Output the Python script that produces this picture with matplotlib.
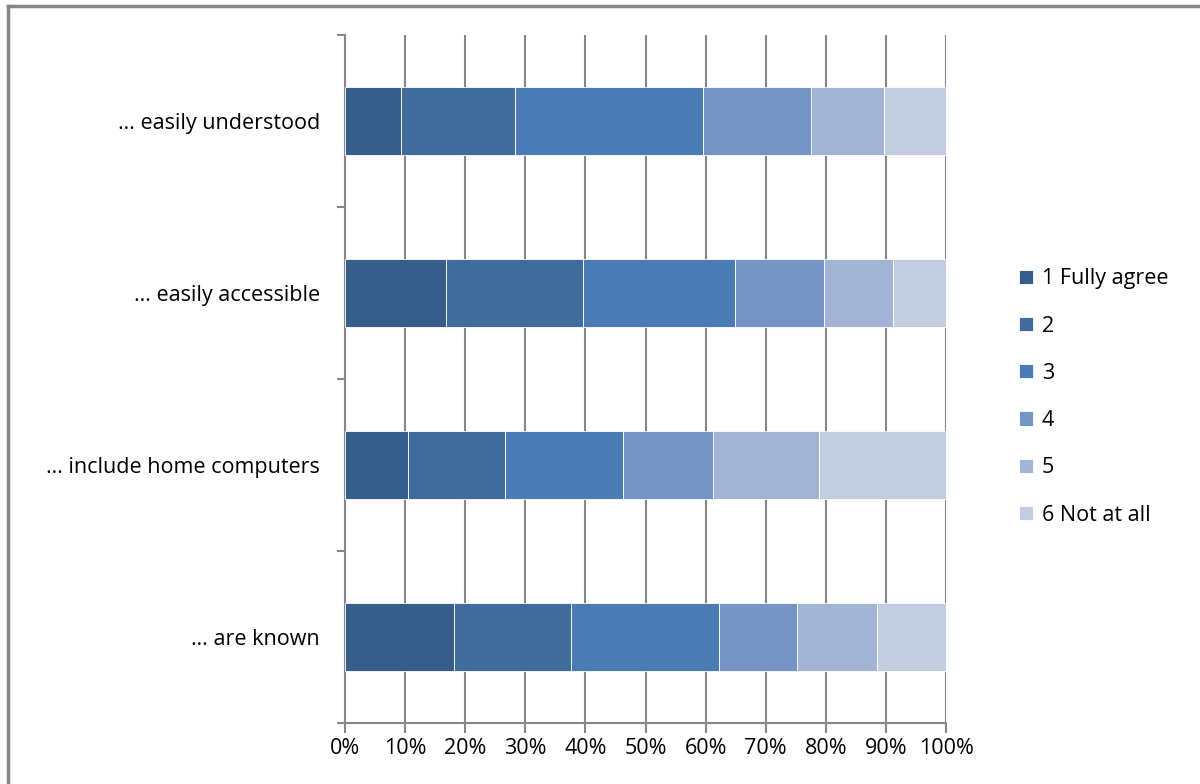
import matplotlib
import matplotlib.pyplot as plt
from matplotlib.lines import Line2D
import numpy as np

matplotlib.use('Agg')

# statements, bottom to top
statements = ['\u2026 are known', '\u2026 include home computers',
              '\u2026 easily accessible', '\u2026 easily understood']
levels = ['1 Fully agree', '2', '3', '4', '5', '6 Not at all']

# share of answers (%) per level, rows follow statements
level_1 = [18.1, 10.5, 16.8, 9.3]
level_2 = [19.5, 16.1, 22.8, 19.0]
level_3 = [24.6, 19.6, 25.3, 31.3]
level_4 = [13.0, 15.1, 14.8, 18.0]
level_5 = [13.3, 17.5, 11.5, 12.1]
level_6 = [11.5, 21.2, 8.8, 10.3]

colors = ['#375d8a', '#416a9d', '#4a7bb4', '#7394c5', '#a2b4d5', '#c2cde2']

plt.rcParams['font.family'] = ['Open Sans', 'DejaVu Sans']
fs = 15.5

fig = plt.figure(figsize=(12, 7.84), dpi=100)
ax = fig.add_axes([345 / 1200, 1 - 723 / 784, 601 / 1200, 688 / 784])

series = [level_1, level_2, level_3, level_4, level_5, level_6]
y = np.arange(len(statements))
left = np.zeros(len(statements))
for vals, col, lab in zip(series, colors, levels):
    vals = np.array(vals)
    ax.barh(y, vals, left=left, height=0.39, color=col, label=lab,
            edgecolor='white', linewidth=0.6, zorder=3)
    left += vals

ax.set_xlim(0, 100)
ax.set_ylim(-0.5, 3.5)
ax.set_xticks(np.arange(0, 101, 10))
ax.set_xticklabels(['%d%%' % v for v in range(0, 101, 10)], fontsize=fs)
ax.tick_params(axis='x', length=7, width=1.5, color='#878787', pad=4)

# category boundaries as the y ticks, labels placed between them
ax.set_yticks(np.arange(-0.5, 3.6, 1))
ax.set_yticklabels([])
ax.set_yticks(y, minor=True)
ax.set_yticklabels(statements, minor=True, fontsize=fs)
ax.tick_params(axis='y', which='major', length=6, width=1.5, color='#878787')
ax.tick_params(axis='y', which='minor', length=0, pad=18)

ax.grid(axis='x', color='#878787', linewidth=1.5, zorder=0)
for s in ['top', 'right']:
    ax.spines[s].set_visible(False)
for s in ['left', 'bottom']:
    ax.spines[s].set_color('#878787')
    ax.spines[s].set_linewidth(1.5)

ax.legend(loc='center left', bbox_to_anchor=(1000 / 1200, 1 - 397 / 784),
          bbox_transform=fig.transFigure, frameon=False, fontsize=fs,
          handlelength=0.65, handleheight=0.65, handletextpad=0.4,
          labelspacing=1.22)

# chart frame
fig.add_artist(Line2D([8 / 1200, 1], [1 - 6 / 784] * 2, color='#878787',
                      linewidth=2.5, transform=fig.transFigure))
fig.add_artist(Line2D([8 / 1200] * 2, [0, 1 - 6 / 784], color='#878787',
                      linewidth=2.5, transform=fig.transFigure))

fig.savefig('out.png', dpi=100)
